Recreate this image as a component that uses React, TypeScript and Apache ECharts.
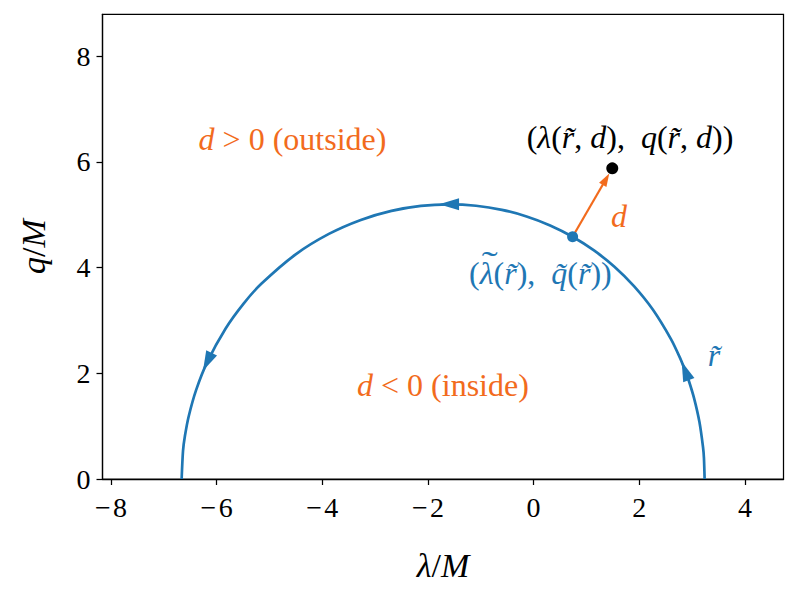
import React, { useEffect, useRef } from "react";
import * as echarts from "echarts";

// Critical curve (lambda/M, q/M)
const curveLambda = [3.237, 3.224, 3.207, 3.139, 3.038, 2.938, 2.870, 2.769, 2.600, 2.256, 1.900, 1.530, 1.143, 0.738, 0.313, -0.133, -0.600, -1.089, -1.600, -2.134, -2.691, -3.271, -3.875, -4.503, -5.154, -5.489, -5.829, -6.176, -6.387, -6.529, -6.600, -6.636, -6.662];
const curveQ = [0, 0.399, 0.601, 1.077, 1.525, 1.858, 2.046, 2.295, 2.646, 3.205, 3.648, 4.015, 4.323, 4.582, 4.796, 4.966, 5.091, 5.169, 5.196, 5.167, 5.072, 4.901, 4.636, 4.250, 3.692, 3.319, 2.848, 2.216, 1.686, 1.183, 0.812, 0.533, 0];

// direction arrows placed along the curve (position and tangent direction)
const arrowLambda = [2.870, -1.600, -6.176];
const arrowQ = [2.046, 5.196, 2.216];
const arrowDirLambda = [-0.168, -1.0, -0.558];
const arrowDirQ = [0.436, 0.0, -1.162];

// point on the curve and the offset point
const curvePoint = [0.738, 4.582];
const offsetPoint = [1.489, 5.876];

const xTicks = [-8, -6, -4, -2, 0, 2, 4];
const yTicks = [0, 2, 4, 6, 8];

// annotations: [lambda, q] centre, text, colour key
const annLambda = [1.824, 1.616, 0.129, 3.414, -4.564, -1.716];
const annQ = [6.468, 4.974, 3.896, 2.345, 6.430, 1.778];
const annText = [
  "(*λ*(*r\u0303*, *d*),  *q*(*r\u0303*, *d*))",
  "*d*",
  "(*λ*(*r\u0303*),  *q\u0303*(*r\u0303*))",
  "*r\u0303*",
  "*d* > 0 (outside)",
  "*d* < 0 (inside)",
];
const annColor = ["black", "orange", "blue", "blue", "orange", "orange"];

const BLUE = "#1f77b4";
const ORANGE = "#f26b1d";
const FONT = "Liberation Serif";
const ANN_SIZE = 32;

function richText(s: string) {
  return s
    .split("*")
    .map((seg, k) => (seg === "" ? "" : k % 2 ? `{i|${seg}}` : `{n|${seg}}`))
    .join("");
}

function richStyles(size: number, color: string) {
  return {
    n: { fontFamily: FONT, fontSize: size, fontStyle: "normal", fill: color, color },
    i: { fontFamily: FONT, fontSize: size, fontStyle: "italic", fill: color, color },
  };
}

let measureCtx: CanvasRenderingContext2D | null = null;
function measure(text: string, italic: boolean, size: number) {
  if (!measureCtx) measureCtx = document.createElement("canvas").getContext("2d");
  if (!measureCtx) return text.length * size * 0.5;
  measureCtx.font = `${italic ? "italic " : ""}${size}px "${FONT}"`;
  return measureCtx.measureText(text).width;
}

function fmt(v: number) {
  return v < 0 ? "\u2212\u200a" + Math.abs(v) : String(v);
}

export default function App() {
  const ref = useRef<HTMLDivElement>(null);
  useEffect(() => {
    if (!ref.current) return;
    const chart = echarts.init(ref.current, undefined, { renderer: "svg" });
    const curveData = curveLambda.map((x, k) => [x, curveQ[k]]);
    const arrowData = arrowLambda.map((x, k) => [x, arrowQ[k], arrowDirLambda[k], arrowDirQ[k]]);

    const option: any = {
      animation: false,
      backgroundColor: "#ffffff",
      grid: {
        left: 102.5,
        right: 14.5,
        top: 14.3,
        bottom: 117,
        show: true,
        borderColor: "#000",
        borderWidth: 1.25,
        backgroundColor: "transparent",
      },
      xAxis: {
        type: "value",
        min: -8.16,
        max: 4.73,
        name: richText("*λ*/*M*"),
        nameLocation: "middle",
        nameGap: 69,
        nameTextStyle: { rich: richStyles(34, "#000") },
        axisLine: { show: true, onZero: false, lineStyle: { color: "#000", width: 1.25 } },
        axisTick: { show: true, length: 6, lineStyle: { color: "#000", width: 1.25 }, customValues: xTicks },
        axisLabel: {
          show: true,
          margin: 14,
          customValues: xTicks,
          formatter: (v: number) => fmt(v),
          fontFamily: FONT,
          fontSize: 28,
          color: "#000",
        },
        splitLine: { show: false },
      },
      yAxis: {
        type: "value",
        min: 0,
        max: 8.79,
        name: richText("*q*/*M*"),
        nameLocation: "middle",
        nameGap: 52,
        nameRotate: 90,
        nameTextStyle: { rich: richStyles(34, "#000") },
        axisLine: { show: true, onZero: false, lineStyle: { color: "#000", width: 1.25 } },
        axisTick: { show: true, length: 6, lineStyle: { color: "#000", width: 1.25 }, customValues: yTicks },
        axisLabel: {
          show: true,
          margin: 12,
          customValues: yTicks,
          formatter: (v: number) => fmt(v),
          fontFamily: FONT,
          fontSize: 28,
          color: "#000",
        },
        splitLine: { show: false },
      },
      series: [
        {
          type: "line",
          data: curveData,
          showSymbol: false,
          smooth: 0.25,
          lineStyle: { color: BLUE, width: 2.7 },
          z: 2,
        },
        {
          type: "custom",
          data: arrowData,
          z: 3,
          renderItem: (_p: any, api: any) => {
            const x = api.value(0), y = api.value(1);
            const p = api.coord([x, y]);
            const q = api.coord([x + api.value(2), y + api.value(3)]);
            const dx = q[0] - p[0], dy = q[1] - p[1];
            const len = Math.hypot(dx, dy) || 1;
            const ux = dx / len, uy = dy / len;
            const nx = -uy, ny = ux;
            const L = 20, W = 12;
            const tip = [p[0] + ux * L * 0.5, p[1] + uy * L * 0.5];
            const bc = [p[0] - ux * L * 0.5, p[1] - uy * L * 0.5];
            return {
              type: "polygon",
              shape: {
                points: [tip, [bc[0] + nx * W / 2, bc[1] + ny * W / 2], [bc[0] - nx * W / 2, bc[1] - ny * W / 2]],
              },
              style: { fill: BLUE },
            };
          },
        },
        {
          type: "custom",
          data: [[curvePoint[0], curvePoint[1], offsetPoint[0], offsetPoint[1]]],
          z: 4,
          renderItem: (_p: any, api: any) => {
            const p0 = api.coord([api.value(0), api.value(1)]);
            const p1 = api.coord([api.value(2), api.value(3)]);
            const dx = p1[0] - p0[0], dy = p1[1] - p0[1];
            const len = Math.hypot(dx, dy) || 1;
            const ux = dx / len, uy = dy / len;
            const nx = -uy, ny = ux;
            const tip = [p1[0] - ux * 6, p1[1] - uy * 6];
            const HL = 13, HW = 8.5;
            const bc = [tip[0] - ux * HL, tip[1] - uy * HL];
            return {
              type: "group",
              children: [
                {
                  type: "line",
                  shape: { x1: p0[0], y1: p0[1], x2: bc[0] + ux * 2, y2: bc[1] + uy * 2 },
                  style: { stroke: ORANGE, lineWidth: 2.2 },
                },
                {
                  type: "polygon",
                  shape: {
                    points: [tip, [bc[0] + nx * HW / 2, bc[1] + ny * HW / 2], [bc[0] - nx * HW / 2, bc[1] - ny * HW / 2]],
                  },
                  style: { fill: ORANGE },
                },
              ],
            };
          },
        },
        {
          type: "scatter",
          data: [curvePoint],
          symbol: "circle",
          symbolSize: 11,
          itemStyle: { color: BLUE, opacity: 1 },
          z: 5,
        },
        {
          type: "scatter",
          data: [offsetPoint],
          symbol: "circle",
          symbolSize: 12,
          itemStyle: { color: "#000", opacity: 1 },
          z: 5,
        },
      ],
    };
    chart.setOption(option);

    const colorMap: Record<string, string> = { black: "#000", orange: ORANGE, blue: BLUE };
    const graphics: any[] = [];
    annLambda.forEach((x, k) => {
      const pt = chart.convertToPixel({ gridIndex: 0 }, [x, annQ[k]]) as number[];
      const c = colorMap[annColor[k]];
      graphics.push({
        type: "text",
        x: pt[0],
        y: pt[1],
        z: 10,
        style: {
          text: richText(annText[k]),
          rich: richStyles(ANN_SIZE, c),
          fill: c,
          align: "center",
          verticalAlign: "middle",
        },
      });
      if (k === 2) {
        // wide tilde over the lambda of the blue label
        const segs = annText[k].split("*");
        let total = 0;
        segs.forEach((s, j) => (total += measure(s, j % 2 === 1, ANN_SIZE)));
        const left = pt[0] - total / 2;
        const lamX = left + measure(segs[0], false, ANN_SIZE) + measure(segs[1], true, ANN_SIZE) / 2;
        graphics.push({
          type: "text",
          x: lamX + 3,
          y: pt[1] - 11,
          z: 10,
          scaleX: 1.5,
          style: {
            text: "\u02dc",
            fill: c,
            font: `${ANN_SIZE}px "${FONT}"`,
            align: "center",
            verticalAlign: "middle",
          },
        });
      }
    });
    chart.setOption({ graphic: graphics });

    return () => chart.dispose();
  }, []);
  return <div ref={ref} style={{ width: 798, height: 596, position: "absolute", left: 0, top: 0 }} />;
}
